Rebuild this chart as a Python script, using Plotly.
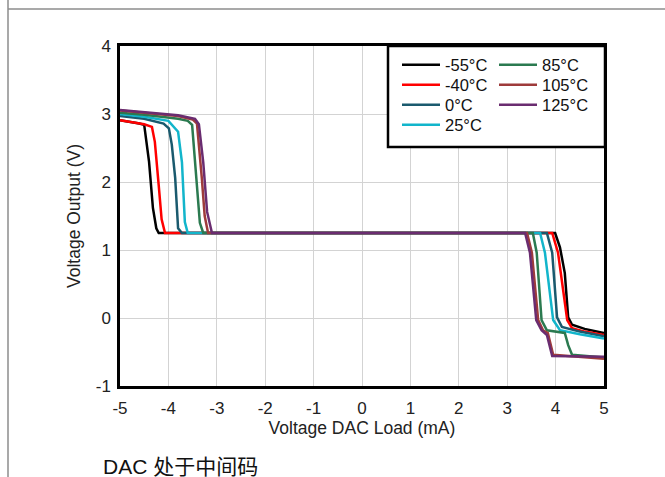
import plotly.graph_objects as go

names = ["-55°C", "-40°C", "0°C", "25°C", "85°C", "105°C", "125°C"]
colors = ["#000000", "#FF0000", "#1A5A6E", "#12B5CB", "#2B7A50", "#9E3B3B", "#6A2C70"]

x_m55 = [-5, -4.8, -4.6, -4.5, -4.4, -4.32, -4.25, -4.2, 3.99, 4.09, 4.19, 4.26, 4.34, 4.6, 5]
y_m55 = [2.91, 2.89, 2.86, 2.84, 2.3, 1.62, 1.32, 1.25, 1.25, 1.04, 0.66, 0.01, -0.1, -0.16, -0.22]

x_m40 = [-5, -4.7, -4.5, -4.34, -4.28, -4.2, -4.14, -4.07, 3.93, 4.05, 4.15, 4.24, 4.34, 4.6, 5]
y_m40 = [2.91, 2.88, 2.85, 2.81, 2.59, 1.95, 1.45, 1.25, 1.25, 0.96, 0.45, -0.03, -0.15, -0.2, -0.25]

x_0 = [-5, -4.5, -4.1, -3.99, -3.93, -3.86, -3.8, -3.72, 3.82, 3.93, 4.03, 4.13, 4.5, 5]
y_0 = [2.97, 2.93, 2.86, 2.79, 2.55, 2.06, 1.32, 1.25, 1.25, 0.96, 0.01, -0.13, -0.2, -0.27]

x_25 = [-5, -4.5, -4.0, -3.8, -3.72, -3.66, -3.6, 3.68, 3.78, 3.95, 4.09, 4.5, 5]
y_25 = [3.0, 2.96, 2.9, 2.74, 2.29, 1.41, 1.25, 1.25, 0.96, -0.03, -0.18, -0.24, -0.3]

x_85 = [-5, -4.5, -3.8, -3.6, -3.51, -3.45, -3.35, -3.28, 3.53, 3.61, 3.71, 3.82, 4.19, 4.26, 4.34, 5]
y_85 = [3.02, 2.99, 2.93, 2.9, 2.84, 2.3, 1.4, 1.25, 1.25, 0.96, -0.03, -0.18, -0.22, -0.4, -0.54, -0.58]

x_105 = [-5, -4.5, -3.8, -3.5, -3.41, -3.31, -3.25, -3.18, 3.41, 3.51, 3.64, 3.74, 3.84, 3.95, 5]
y_105 = [3.05, 3.02, 2.97, 2.92, 2.86, 2.06, 1.5, 1.25, 1.25, 0.96, -0.03, -0.18, -0.22, -0.54, -0.6]

x_125 = [-5, -4.5, -3.8, -3.45, -3.37, -3.28, -3.2, -3.1, 3.37, 3.47, 3.6, 3.71, 3.82, 3.93, 5]
y_125 = [3.06, 3.03, 2.98, 2.93, 2.85, 2.29, 1.56, 1.25, 1.25, 0.96, -0.03, -0.18, -0.25, -0.56, -0.57]

xs = [x_m55, x_m40, x_0, x_25, x_85, x_105, x_125]
ys = [y_m55, y_m40, y_0, y_25, y_85, y_105, y_125]

x_ticks = [-5, -4, -3, -2, -1, 0, 1, 2, 3, 4, 5]
x_tick_text = ["-5", "-4", "-3", "-2", "-1", "0", "1", "2", "3", "4", "5"]
y_ticks = [-1, 0, 1, 2, 3, 4]
y_tick_text = ["-1", "0", "1", "2", "3", "4"]

W, H = 665, 477
L, R, T, B = 120, 61, 46, 91
pw, ph = W - L - R, H - T - B

def px(xp):
    return (xp - L) / pw

def py(yp):
    return (H - B - yp) / ph

FONT = "Liberation Sans, Arial, Noto Sans CJK SC, sans-serif"

# legend slot positions (pixel): column left, row centre
leg_cols = [397, 494]
leg_rows = [65, 85, 105, 125]

fig = go.Figure()
layout_legends = {}
for i, (n, c, xv, yv) in enumerate(zip(names, colors, xs, ys)):
    key = "legend" if i == 0 else f"legend{i + 1}"
    col = 0 if i < 4 else 1
    row = i if i < 4 else i - 4
    fig.add_trace(go.Scatter(
        x=xv, y=yv, mode="lines", name=n,
        line=dict(color=c, width=2.5),
        legend=key,
    ))
    layout_legends[key] = dict(
        x=px(leg_cols[col]), y=py(leg_rows[row]), xanchor="left", yanchor="middle",
        bgcolor="rgba(0,0,0,0)", font=dict(size=16.5, color="#111111"),
        itemwidth=38, borderwidth=0,
    )

fig.update_layout(
    width=W, height=H,
    margin=dict(l=L, r=R, t=T, b=B),
    paper_bgcolor="white", plot_bgcolor="white",
    font=dict(family=FONT, size=17, color="#222222"),
    xaxis=dict(range=[-5, 5], tickvals=x_ticks, ticktext=x_tick_text, showgrid=True,
               gridcolor="#D3D3D3", gridwidth=1, zeroline=False, showline=True,
               linecolor="black", linewidth=2.5, mirror=True, ticks="",
               tickfont=dict(size=17), ticklabelstandoff=5,
               title=dict(text="Voltage DAC Load (mA)", font=dict(size=17.5), standoff=5)),
    yaxis=dict(range=[-1, 4], tickvals=y_ticks, ticktext=y_tick_text, showgrid=True,
               gridcolor="#D3D3D3", gridwidth=1, zeroline=False, showline=True,
               linecolor="black", linewidth=2.5, mirror=True, ticks="",
               tickfont=dict(size=17), ticklabelstandoff=3,
               title=dict(text="Voltage Output (V)", font=dict(size=17.5), standoff=11)),
    showlegend=True,
    **layout_legends,
)

shapes = [
    dict(type="rect", xref="paper", yref="paper", x0=px(388), x1=px(605), y0=py(147), y1=py(46),
         line=dict(color="black", width=2.5), fillcolor="white", layer="above"),
    dict(type="line", xref="paper", yref="paper", x0=px(8), x1=px(8), y0=py(477), y1=py(0),
         line=dict(color="#8C8C8C", width=1.5)),
    dict(type="line", xref="paper", yref="paper", x0=px(8), x1=px(665), y0=py(9), y1=py(9),
         line=dict(color="#8C8C8C", width=1.5)),
]
fig.update_layout(shapes=shapes)

fig.add_annotation(text="DAC 处于中间码", xref="paper", yref="paper",
                   x=px(101), y=py(466), xanchor="left", yanchor="middle",
                   showarrow=False,
                   font=dict(family="Liberation Sans, Noto Sans CJK SC", size=21, color="#111111"))

fig.write_html("out.html")
